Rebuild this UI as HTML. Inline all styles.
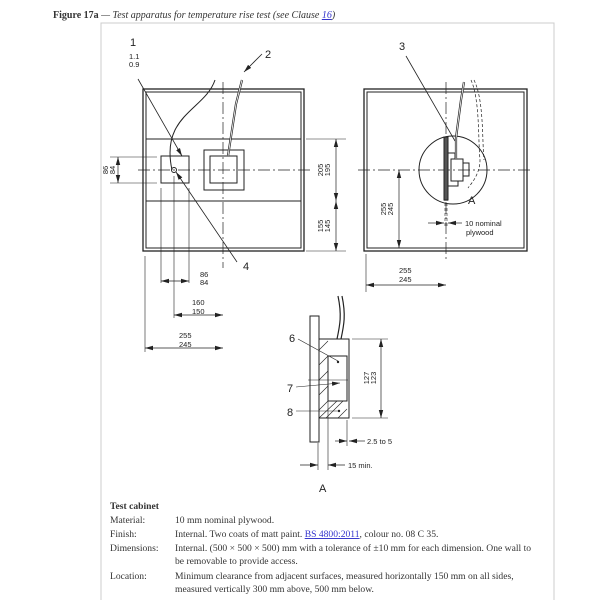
<!DOCTYPE html>
<html><head><meta charset="utf-8"><style>
html,body{margin:0;padding:0;background:#fff;width:600px;height:600px;overflow:hidden}
svg{display:block}
.s{font-family:"Liberation Serif",serif;font-size:9.6px;fill:#333}
.d{font-family:"Liberation Sans Narrow","Liberation Sans",sans-serif;font-size:7.5px;fill:#222}
.n{font-family:"Liberation Sans",sans-serif;font-size:11px;fill:#222}
</style></head><body>
<svg width="600" height="600" viewBox="0 0 600 600" xmlns="http://www.w3.org/2000/svg">
<defs>
<marker id="a" markerWidth="8" markerHeight="6" refX="8" refY="3" orient="auto-start-reverse" markerUnits="userSpaceOnUse"><path d="M0,0.8 L8,3 L0,5.2z" fill="#222"/></marker>
</defs>
<text x="53" y="18" class="s" style="font-size:10px"><tspan font-weight="bold">Figure 17a</tspan><tspan font-style="italic"> — Test apparatus for temperature rise test (see Clause </tspan><tspan font-style="italic" fill="#33c" text-decoration="underline">16</tspan><tspan font-style="italic">)</tspan></text>
<path d="M101,600 V23 H554 V600" fill="none" stroke="#ccc" stroke-width="1"/>
<g stroke="#222" fill="none" stroke-width="1">
<rect x="143" y="89" width="161" height="162" stroke-width="1.3"/>
<rect x="146" y="92" width="155" height="156" stroke-width="1"/>
<line x1="146" y1="139" x2="301" y2="139"/>
<line x1="146" y1="201" x2="301" y2="201"/>
<rect x="161" y="156" width="28" height="27"/>
<circle cx="174" cy="170" r="2.5"/>
<rect x="204" y="150" width="40" height="40"/>
<rect x="210" y="156" width="27" height="27"/>
<line x1="223" y1="82" x2="223" y2="268" stroke-dasharray="12,3,2,3" stroke-width="0.7"/>
<line x1="138" y1="170" x2="312" y2="170" stroke-dasharray="12,3,2,3" stroke-width="0.7"/>
<path d="M215,80 C205,110 160,115 172,170" stroke-width="1"/>
<path d="M242,80 L236,104 L228,156" stroke-width="2.2"/>
<path d="M242,80 L236,104 L228,156" stroke="#fff" stroke-width="0.8"/>
<line x1="138" y1="79" x2="182" y2="156" stroke-width="0.8" marker-end="url(#a)"/>
<line x1="262" y1="54" x2="244" y2="72" stroke-width="0.8" marker-end="url(#a)"/>
<line x1="237" y1="262" x2="176" y2="172" stroke-width="0.8" marker-end="url(#a)"/>
<line x1="110" y1="157" x2="157" y2="157" stroke-width="0.6"/>
<line x1="110" y1="183" x2="157" y2="183" stroke-width="0.6"/>
<line x1="118" y1="157" x2="118" y2="183" stroke-width="0.7" marker-start="url(#a)" marker-end="url(#a)"/>
<line x1="161" y1="188" x2="161" y2="283" stroke-width="0.6"/>
<line x1="174" y1="176" x2="174" y2="318" stroke-width="0.6"/>
<line x1="189" y1="188" x2="189" y2="283" stroke-width="0.6"/>
<line x1="145" y1="256" x2="145" y2="352" stroke-width="0.6"/>
<line x1="161" y1="281" x2="189" y2="281" stroke-width="0.7" marker-start="url(#a)" marker-end="url(#a)"/>
<line x1="174" y1="315" x2="223" y2="315" stroke-width="0.7" marker-start="url(#a)" marker-end="url(#a)"/>
<line x1="145" y1="348" x2="223" y2="348" stroke-width="0.7" marker-start="url(#a)" marker-end="url(#a)"/>
<line x1="306" y1="139" x2="346" y2="139" stroke-width="0.6"/>
<line x1="306" y1="251" x2="346" y2="251" stroke-width="0.6"/>
<line x1="336" y1="139" x2="336" y2="201" stroke-width="0.7" marker-start="url(#a)" marker-end="url(#a)"/>
<line x1="336" y1="201" x2="336" y2="251" stroke-width="0.7" marker-start="url(#a)" marker-end="url(#a)"/>
<rect x="364" y="89" width="163" height="162" stroke-width="1.3"/>
<rect x="367" y="92" width="157" height="156"/>
<line x1="446" y1="82" x2="446" y2="262" stroke-dasharray="12,3,2,3" stroke-width="0.7"/>
<line x1="358" y1="170" x2="532" y2="170" stroke-dasharray="12,3,2,3" stroke-width="0.7"/>
<circle cx="453" cy="170" r="34"/>
<rect x="444" y="137" width="4" height="63" fill="#555"/>
<rect x="445" y="200" width="2" height="26" stroke-width="0.6" stroke-dasharray="3,2"/>
<rect x="451" y="159" width="12" height="22"/>
<rect x="463" y="163" width="6" height="13"/>
<path d="M448,153 H455 V159 M448,186 H458 V181"/>
<path d="M464,82 L461,100 L456,138 L456,159" stroke-width="2.2"/>
<path d="M464,82 L461,100 L456,138 L456,159" stroke="#fff" stroke-width="0.8"/>
<path d="M471,80 C480,100 478,140 480,160 C480,175 470,185 468,188" stroke-dasharray="3,2" stroke-width="0.7"/>
<path d="M474,80 C484,100 482,140 484,160" stroke-dasharray="3,2" stroke-width="0.7"/>
<line x1="406" y1="56" x2="455" y2="141" stroke-width="0.8"/>
<line x1="399" y1="170" x2="399" y2="248" stroke-width="0.7" marker-start="url(#a)" marker-end="url(#a)"/>
<line x1="428" y1="223" x2="444" y2="223" stroke-width="0.7" marker-end="url(#a)"/>
<line x1="462" y1="223" x2="448" y2="223" stroke-width="0.7" marker-end="url(#a)"/>
<line x1="366" y1="254" x2="366" y2="292" stroke-width="0.6"/>
<line x1="366" y1="285" x2="446" y2="285" stroke-width="0.7" marker-start="url(#a)" marker-end="url(#a)"/>
<rect x="310" y="316" width="9" height="126"/>
<rect x="319" y="339" width="30" height="79"/>
<rect x="328" y="356" width="19" height="45"/>
<path d="M319,350 L328,341 M319,365 L328,356 M319,380 L328,371 M319,395 L328,386 M319,410 L328,401 M326,418 L343,401 M338,418 L347,409 M319,418 L337,401" stroke-width="0.6"/>
<path d="M337,339 C340,325 342,315 338,296" stroke-width="1.2"/>
<path d="M341,339 C344,325 346,315 342,296" stroke-width="1.2"/>
<line x1="352" y1="339" x2="388" y2="339" stroke-width="0.6"/>
<line x1="352" y1="418" x2="388" y2="418" stroke-width="0.6"/>
<line x1="381" y1="339" x2="381" y2="418" stroke-width="0.7" marker-start="url(#a)" marker-end="url(#a)"/>
<line x1="347" y1="420" x2="347" y2="446" stroke-width="0.6"/>
<line x1="328" y1="401" x2="328" y2="470" stroke-width="0.6"/>
<line x1="318" y1="443" x2="318" y2="470" stroke-width="0.6"/>
<line x1="308" y1="380" x2="348" y2="380" stroke-width="0.6"/>
<line x1="335" y1="441" x2="347" y2="441" stroke-width="0.7" marker-end="url(#a)"/>
<line x1="365" y1="441" x2="349" y2="441" stroke-width="0.7" marker-end="url(#a)"/>
<line x1="300" y1="465" x2="318" y2="465" stroke-width="0.7" marker-end="url(#a)"/>
<line x1="345" y1="465" x2="328" y2="465" stroke-width="0.7" marker-end="url(#a)"/>
<line x1="298" y1="339" x2="338" y2="361" stroke-width="0.6"/>
<line x1="296" y1="387" x2="340" y2="383" stroke-width="0.6" marker-end="url(#a)"/>
<line x1="296" y1="411" x2="338" y2="411" stroke-width="0.6"/>
</g>
<circle cx="338" cy="362" r="1.2" fill="#222"/><circle cx="339" cy="411" r="1.2" fill="#222"/>
<text x="130" y="46" class="n">1</text>
<text x="129" y="59" class="d">1.1</text><text x="129" y="67" class="d">0.9</text>
<text x="265" y="58" class="n">2</text>
<text x="399" y="50" class="n">3</text>
<text x="243" y="270" class="n">4</text>
<text x="468" y="204" class="n">A</text>
<text x="289" y="342" class="n">6</text>
<text x="287" y="392" class="n">7</text>
<text x="287" y="416" class="n">8</text>
<text x="319" y="492" class="n">A</text>
<text class="d" transform="translate(108,170) rotate(-90)" text-anchor="middle"><tspan x="0" y="0">86</tspan><tspan x="0" y="7">84</tspan></text>
<text class="d" transform="translate(323,170) rotate(-90)" text-anchor="middle"><tspan x="0" y="0">205</tspan><tspan x="0" y="7">195</tspan></text>
<text class="d" transform="translate(323,226) rotate(-90)" text-anchor="middle"><tspan x="0" y="0">155</tspan><tspan x="0" y="7">145</tspan></text>
<text class="d" transform="translate(386,209) rotate(-90)" text-anchor="middle"><tspan x="0" y="0">255</tspan><tspan x="0" y="7">245</tspan></text>
<text class="d" transform="translate(369,378) rotate(-90)" text-anchor="middle"><tspan x="0" y="0">127</tspan><tspan x="0" y="7">123</tspan></text>
<text x="200" y="277" class="d">86</text><text x="200" y="285" class="d">84</text>
<text x="192" y="305" class="d">160</text><text x="192" y="314" class="d">150</text>
<text x="179" y="338" class="d">255</text><text x="179" y="347" class="d">245</text>
<text x="399" y="273" class="d">255</text><text x="399" y="282" class="d">245</text>
<text x="465" y="226" class="d">10 nominal</text><text x="466" y="235" class="d">plywood</text>
<text x="367" y="444" class="d">2.5 to 5</text>
<text x="348" y="468" class="d">15 min.</text>
<g class="s">
<text x="110" y="509" font-weight="bold">Test cabinet</text>
<text x="110" y="523">Material:</text><text x="175" y="523">10 mm nominal plywood.</text>
<text x="110" y="537">Finish:</text><text x="175" y="537">Internal. Two coats of matt paint. <tspan fill="#33c" text-decoration="underline">BS 4800:2011</tspan>, colour no. 08 C 35.</text>
<text x="110" y="551">Dimensions:</text><text x="175" y="551">Internal. (500 × 500 × 500) mm with a tolerance of ±10 mm for each dimension. One wall to</text>
<text x="175" y="564">be removable to provide access.</text>
<text x="110" y="579">Location:</text><text x="175" y="579">Minimum clearance from adjacent surfaces, measured horizontally 150 mm on all sides,</text>
<text x="175" y="592">measured vertically 300 mm above, 500 mm below.</text>
</g>
</svg>
</body></html>
